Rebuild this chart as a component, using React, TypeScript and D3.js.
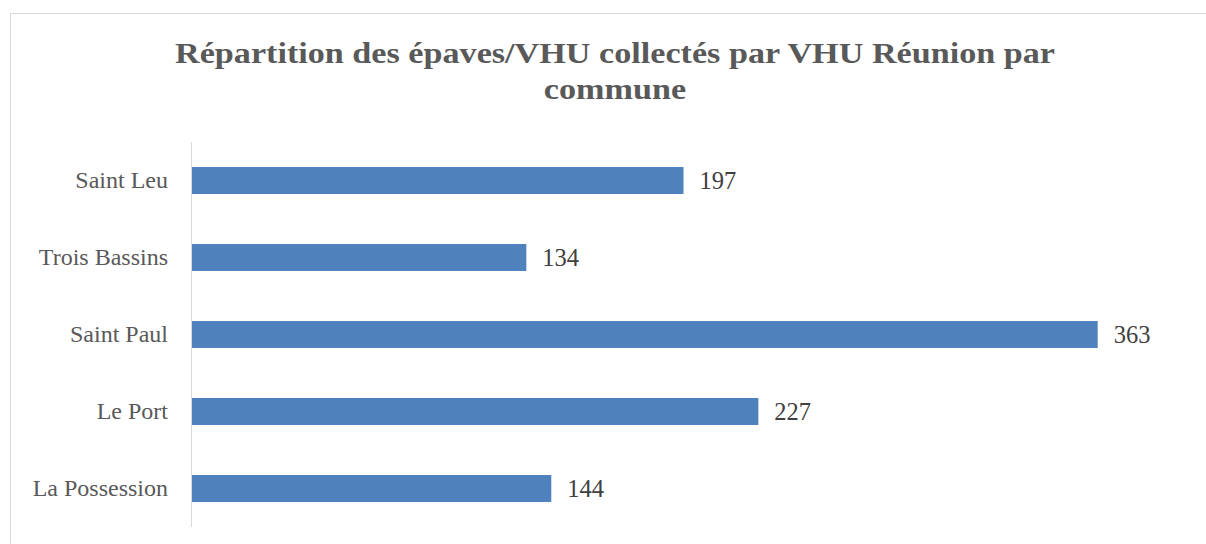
import React from "react";
import * as d3 from "d3";

const categories = ["Saint Leu", "Trois Bassins", "Saint Paul", "Le Port", "La Possession"];
const values = [197, 134, 363, 227, 144];
const titleLines = ["Répartition des épaves/VHU collectés par VHU Réunion par", "commune"];

export default function App() {
  const W = 1206, H = 544;
  const x = d3.scaleLinear().domain([0, 400]).range([192, 1190]);
  const y = d3.scaleBand().domain(categories).range([142, 527]).paddingInner(0.65).paddingOuter(0.325);
  const font = "'Liberation Serif', 'DejaVu Serif', serif";
  return (
    <svg width={W} height={H} style={{ position: "absolute", left: 0, top: 0, background: "#fff" }}>
      <rect x={10.5} y={13.5} width={1210} height={560} fill="#fff" stroke="#d9d9d9" strokeWidth={1} />
      <g transform="translate(615,0) scale(1.12,1)">
        {titleLines.map((t, i) => (
          <text key={i} x={0} y={63.5 + i * 36} textAnchor="middle" fontFamily={font} fontWeight="bold" fontSize={30.5} fill="#595959">{t}</text>
        ))}
      </g>
      <line x1={191.5} x2={191.5} y1={y.range()[0]} y2={y.range()[1]} stroke="#d9d9d9" strokeWidth={1} />
      {categories.map((c, i) => (
        <g key={c}>
          <rect x={x(0)} y={y(c)} width={x(values[i]) - x(0)} height={y.bandwidth()} fill="#4f81bd" />
          <text x={168} y={(y(c) as number) + y.bandwidth() / 2 + 7.5} textAnchor="end" fontFamily={font} fontSize={24} fill="#595959">{c}</text>
          <text x={x(values[i]) + 16} y={(y(c) as number) + y.bandwidth() / 2 + 8.5} textAnchor="start" fontFamily={font} fontSize={24.5} fill="#404040">{values[i]}</text>
        </g>
      ))}
    </svg>
  );
}
